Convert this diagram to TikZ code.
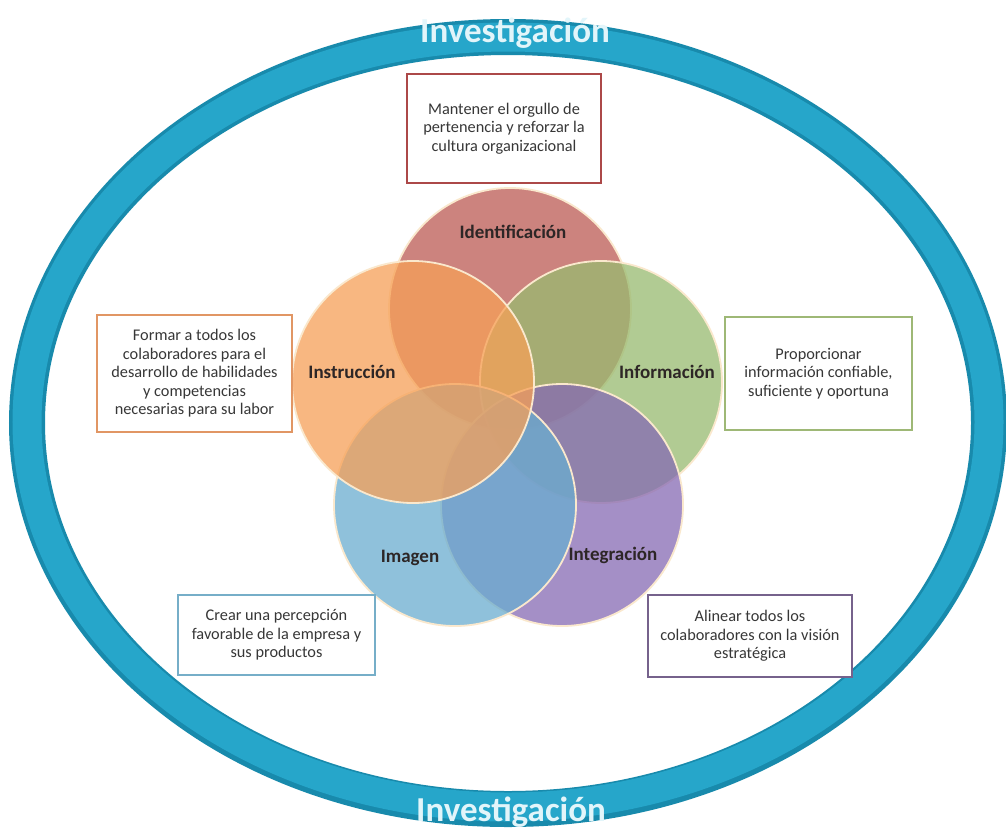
\documentclass[tikz,border=0pt]{standalone}
\usepackage{fontspec}
\setmainfont{Carlito}
\definecolor{ringc}{RGB}{24,138,172}
\definecolor{ringhi}{RGB}{38,166,202}
\definecolor{ringtx}{RGB}{226,245,250}
\definecolor{pinkc}{RGB}{188,90,84}
\definecolor{orangec}{RGB}{246,160,88}
\definecolor{greenc}{RGB}{152,186,112}
\definecolor{bluec}{RGB}{106,173,208}
\definecolor{purplec}{RGB}{134,106,180}
\definecolor{creamc}{RGB}{250,232,205}
\definecolor{bpink}{RGB}{172,72,72}
\definecolor{borange}{RGB}{225,150,100}
\definecolor{bgreen}{RGB}{158,184,118}
\definecolor{bblue}{RGB}{118,174,200}
\definecolor{bpurple}{RGB}{118,98,140}
\definecolor{txt}{RGB}{55,55,55}
\definecolor{lbl}{RGB}{45,38,38}
\tikzset{
  ringline/.style={line width=36pt, draw=ringc},
  ringhigh/.style={line width=29pt, draw=ringhi},
  venn/.style={circle, minimum size=242pt, inner sep=0pt, fill opacity=0.75, draw=creamc, line width=1.8pt},
  vlabel/.style={font=\fontsize{19}{21}\selectfont\bfseries, text=lbl},
  infobox/.style={draw, line width=1.8pt, fill=white, inner sep=0pt, align=center,
    font=\fontsize{16.3}{18.5}\selectfont, text=txt},
  ringtext/.style={font=\fontsize{35}{38}\selectfont\bfseries, text=ringtx}
}
\begin{document}
\begin{tikzpicture}[x=1pt,y=-1pt]
\useasboundingbox (0,0) rectangle (1006,833);
\fill[white] (0,0) rectangle (1006,833);
% outer ring
\draw[ringline] (508,423) ellipse [x radius=481, y radius=386];
\draw[ringhigh] (508,422) ellipse [x radius=481, y radius=385];
\node[ringtext] (toptx) at (515,33) {Investigación};
\node[ringtext] (bottx) at (511,812) {Investigación};
% venn circles
\node[venn, fill=pinkc] (cid) at (510,309) {};
\node[venn, fill=greenc] (cinf) at (601,382) {};
\node[venn, fill=purplec] (cint) at (562,505) {};
\node[venn, fill=bluec] (cim) at (455,505) {};
\node[venn, fill=orangec] (cins) at (413,382) {};
% labels
\node[vlabel] (lid) at (513,232) {Identificación};
\node[vlabel] (lins) at (352,372) {Instrucción};
\node[vlabel] (linf) at (667,372) {Información};
\node[vlabel] (lim) at (410,558) {Imagen};
\node[vlabel] (lint) at (613,555) {Integración};
% boxes
\node[infobox, draw=bpink, minimum width=194pt, minimum height=109pt] (bid) at (504,128.5)
  {Mantener el orgullo de\\pertenencia y reforzar la\\cultura organizacional};
\node[infobox, draw=borange, minimum width=195pt, minimum height=117pt] (bins) at (194.5,373.5)
  {Formar a todos los\\colaboradores para el\\desarrollo de habilidades\\y competencias\\necesarias para su labor};
\node[infobox, draw=bgreen, minimum width=187pt, minimum height=113pt] (binf) at (818.5,373.5)
  {Proporcionar\\información confiable,\\suficiente y oportuna};
\node[infobox, draw=bblue, minimum width=197pt, minimum height=80pt] (bim) at (276.5,635)
  {Crear una percepción\\favorable de la empresa y\\sus productos};
\node[infobox, draw=bpurple, minimum width=204pt, minimum height=82pt] (bint) at (750,636)
  {Alinear todos los\\colaboradores con la visión\\estratégica};
\end{tikzpicture}
\end{document}
